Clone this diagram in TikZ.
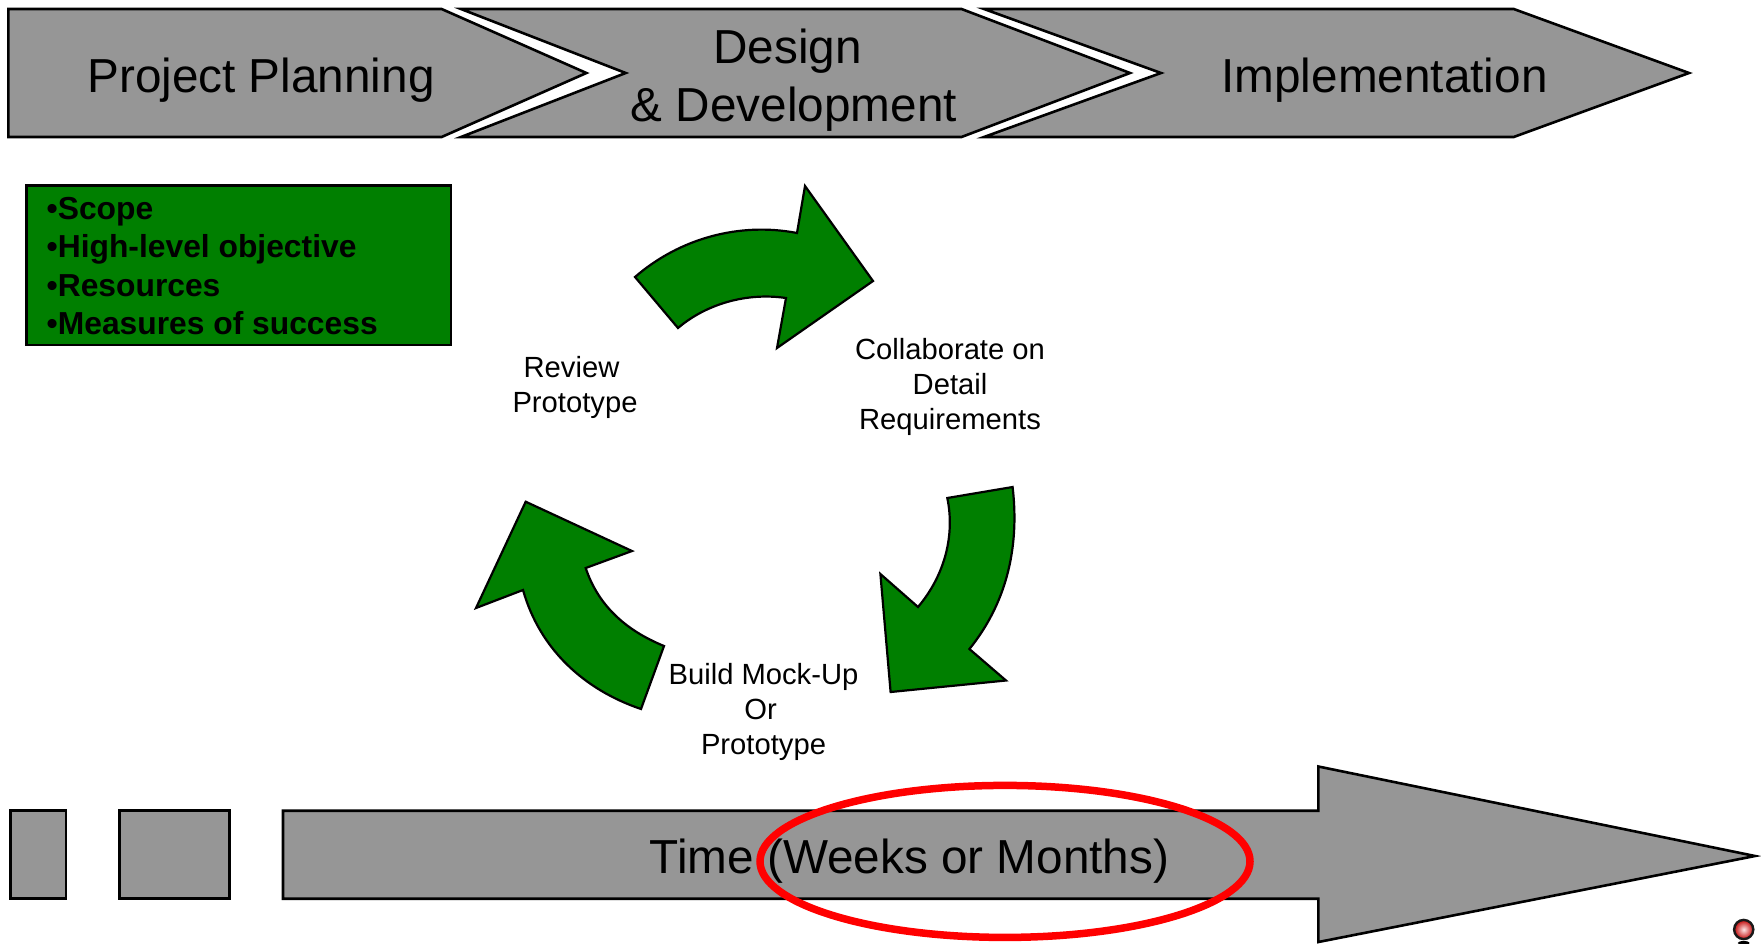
\documentclass[tikz,border=0pt]{standalone}
\usepackage{fontspec}
\setmainfont{Liberation Sans}
\definecolor{barg}{HTML}{969696}
\definecolor{leaf}{HTML}{007F00}
\definecolor{ring}{HTML}{FF0000}
\begin{document}
\begin{tikzpicture}[x=1pt,y=-1pt,
  greyshape/.style={draw=black,fill=barg,line width=2.6pt,line join=miter,miter limit=10},
  greenshape/.style={draw=black,fill=leaf,line width=2.2pt,line join=miter,miter limit=10},
  bigtext/.style={font=\fontsize{47.7}{57.6}\selectfont,text=black,inner sep=0pt,align=center},
  smalltext/.style={font=\fontsize{29.2}{35}\selectfont,text=black,inner sep=0pt,align=center},
  listtext/.style={font=\fontsize{31.8}{38.6}\selectfont\bfseries,text=black,inner sep=0pt,align=left}]
\useasboundingbox (0,0) rectangle (1761,943);
\fill[white] (0,0) rectangle (1761,943);
% phase chevrons
\draw[greyshape] (984,9) -- (1513.7,9) -- (1689,73) -- (1513.7,137) -- (984,137) -- (1161,73) -- cycle;
\draw[greyshape] (461,9) -- (961.5,9) -- (1130,73) -- (961.5,137) -- (461,137) -- (625.7,73) -- cycle;
\draw[greyshape] (8.4,9) -- (441.6,9) -- (586.4,73) -- (441.6,137) -- (8.4,137) -- cycle;
\node[bigtext,anchor=base] (planning) at (261,92.7) {Project Planning};
\node[bigtext] (design) at (794,80) {Design\hspace{13pt}\null\\\& Development};
\node[bigtext,anchor=base] (impl) at (1384.5,92.7) {Implementation};
% objectives box
\draw[greenshape] (26.4,185.5) rectangle (451,345);
\node[listtext,anchor=west] (list) at (46.5,266) {•Scope\\•High-level objective\\•Resources\\•Measures of success};
% cycle arrows
\draw[greenshape] (797,233) .. controls (740,222) and (680,238) .. (635,277) -- (678,328) .. controls (705,305) and (745,292) .. (786,298) -- (777,348) -- (873,281) -- (805,186) -- cycle;
\draw[greenshape] (947.3,498) -- (1012.6,487) .. controls (1020,550) and (1005,605) .. (969.4,649) -- (1006,680.5) -- (890.6,692) -- (880.4,574) -- (918,607) .. controls (945,575) and (955,535) .. cycle;
\draw[greenshape] (641,709) -- (664,646) .. controls (625,630) and (598,605) .. (585.7,568) -- (632,551) -- (525.7,501.7) -- (476,608) -- (523,590) .. controls (540,650) and (585,690) .. cycle;
\node[smalltext] (collab) at (950,386.5) {Collaborate on\\Detail\\Requirements};
\node[smalltext] (review) at (575,387) {Review\hspace{7pt}\null\\Prototype};
\node[smalltext] (build) at (763.5,712) {Build Mock-Up\\Or\hspace{6pt}\null\\Prototype};
% time bar
\draw[greyshape] (10.3,810.7) rectangle (66,898.7);
\draw[greyshape] (119.4,810.7) rectangle (229.6,898.7);
\draw[greyshape] (283,810.7) -- (1318.4,810.7) -- (1318.4,766.5) -- (1755,856) -- (1318.4,942) -- (1318.4,898.7) -- (283,898.7) -- cycle;
\node[bigtext,anchor=base] (time) at (909.5,873) {Time (Weeks or Months)};
\draw[ring,line width=7.5pt] (1005,861.4) ellipse [x radius=245,y radius=76];
% marker ball
\fill[black] (1743.7,943) ellipse [x radius=6,y radius=2];
\shade[inner color=red!10!white,outer color=red!75!black] (1743.7,929.5) circle (10);
\draw[black!90,line width=2.4pt] (1743.7,929.5) circle (9.6);
\end{tikzpicture}
\end{document}
